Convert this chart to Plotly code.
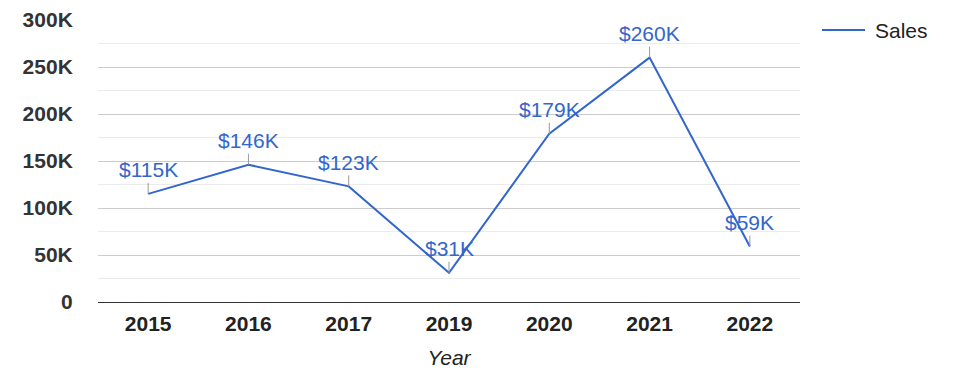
import plotly.graph_objects as go

years = ["2015", "2016", "2017", "2019", "2020", "2021", "2022"]
sales = [115000, 146000, 123000, 31000, 179000, 260000, 59000]
labels = ["$115K", "$146K", "$123K", "$31K", "$179K", "$260K", "$59K"]
series_name = "Sales"
y_tickvals = [0, 50000, 100000, 150000, 200000, 250000, 300000]
y_ticktext = ["0", "50K", "100K", "150K", "200K", "250K", "300K"]
y_minorvals = [25000, 75000, 125000, 175000, 225000, 275000]

BLUE = "#3366cc"
FONT = "Liberation Sans, Arial, sans-serif"
FS = 21

fig = go.Figure()
fig.add_trace(go.Scatter(x=years, y=sales, mode="lines", name=series_name,
                         line=dict(color=BLUE, width=2), hoverinfo="skip",
                         showlegend=False))

for i, (y, t) in enumerate(zip(sales, labels)):
    fig.add_annotation(x=i, y=y, xref="x", yref="y", text=t, showarrow=True,
                       arrowhead=0, arrowwidth=1, arrowcolor="#999999",
                       ax=0, ay=-24,
                       font=dict(family=FONT, size=FS, color=BLUE))

# legend drawn as a line sample plus label
fig.add_shape(type="line", xref="paper", yref="paper",
              x0=1.0313, x1=1.0926, y0=0.9645, y1=0.9645,
              line=dict(color=BLUE, width=2))
fig.add_annotation(xref="paper", yref="paper", x=1.1040, y=0.9645,
                   xanchor="left", yanchor="middle", showarrow=False,
                   text=series_name, font=dict(family=FONT, size=FS, color="#222222"))

fig.update_layout(
    width=975, height=378,
    margin=dict(l=98, r=175, t=20, b=76),
    paper_bgcolor="white", plot_bgcolor="white",
    font=dict(family=FONT, size=FS, color="#222222"),
    showlegend=False,
    xaxis=dict(type="category", range=[-0.5, 6.5], showgrid=False, automargin=False,
               showline=True, linecolor="#333333", linewidth=1,
               ticks="outside", ticklen=3, tickcolor="rgba(0,0,0,0)",
               tickfont=dict(family=FONT, size=FS, color="#222222", weight="bold"),
               title=dict(text="Year", standoff=16,
                          font=dict(family=FONT, size=FS, color="#222222", style="italic"))),
    yaxis=dict(range=[0, 300000], tickmode="array", tickvals=y_tickvals, automargin=False,
               ticktext=y_ticktext, showgrid=True, gridcolor="#cccccc", gridwidth=1,
               zeroline=False, showline=False,
               ticks="outside", ticklen=20, tickcolor="rgba(0,0,0,0)",
               tickfont=dict(family=FONT, size=FS, color="#333333", weight="bold"),
               minor=dict(tickmode="array", tickvals=y_minorvals, showgrid=True,
                          gridcolor="#ebebeb", gridwidth=1, ticks="")),
)

fig.write_html("out.html", config={"displayModeBar": False},
               post_script="document.body.style.margin='0';")
